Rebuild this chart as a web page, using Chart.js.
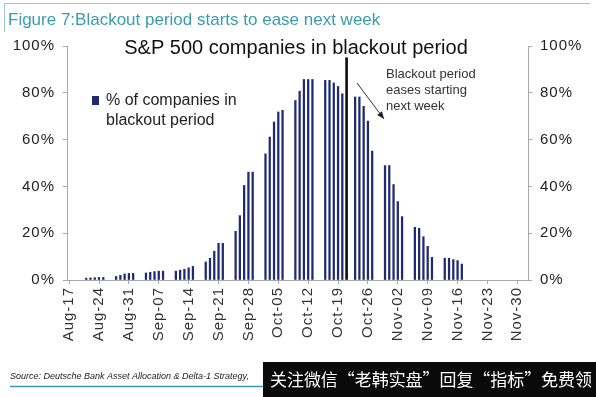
<!DOCTYPE html>
<html>
<head>
<meta charset="utf-8">
<script src="https://cdn.jsdelivr.net/npm/chart.js@4.4.1/dist/chart.umd.min.js"></script>
<style>
  body { margin: 0; background: #fff; }
  #wrap { width: 596px; height: 397px; }
</style>
</head>
<body>
<div id="wrap"><canvas id="chart" width="596" height="397"></canvas></div>
<script>
//first and last day on the axis (one category per calendar day)
const firstDay = "2017-08-17";
const lastDay = "2017-12-02";
//Monday of each week that has data
const weekStarts = ["2017-08-21", "2017-08-28", "2017-09-04", "2017-09-11", "2017-09-18",
  "2017-09-25", "2017-10-02", "2017-10-09", "2017-10-16", "2017-10-23",
  "2017-10-30", "2017-11-06", "2017-11-13"];
//% of S&P 500 companies in blackout period, Mon..Fri of each week above
const weekValues = [
  [0.8, 0.9, 1.0, 1.1, 1.1],
  [1.5, 2.0, 2.6, 2.8, 2.8],
  [3.0, 3.3, 3.6, 3.8, 3.8],
  [3.8, 4.2, 4.6, 5.2, 5.8],
  [7.7, 9.3, 12.3, 15.7, 15.7],
  [20.8, 27.5, 40.4, 46.1, 46.1],
  [53.9, 61.1, 67.5, 71.8, 72.5],
  [76.7, 80.7, 85.7, 85.7, 85.7],
  [85.3, 85.3, 84.2, 82.7, 79.6],
  [78.2, 78.2, 74.2, 67.9, 55.1],
  [48.9, 48.9, 40.8, 33.5, 27.1],
  [22.5, 22.1, 18.5, 14.4, 9.7],
  [9.3, 9.3, 8.7, 8.3, 6.8],
];
//"today" marker
const markerDay = "2017-10-21";
const markerValue = 95;
//y axis ticks
const yTicks = [0, 20, 40, 60, 80, 100];

const months = ["Jan", "Feb", "Mar", "Apr", "May", "Jun", "Jul", "Aug", "Sep", "Oct", "Nov", "Dec"];
const dayMs = 24 * 3600 * 1000;
const toDate = (s) => new Date(s + "T00:00:00Z");
const fmt = (d) => months[d.getUTCMonth()] + "-" + String(d.getUTCDate()).padStart(2, "0");

//build daily categories
const labels = [];
const keys = [];
for (let t = toDate(firstDay).getTime(); t <= toDate(lastDay).getTime(); t += dayMs) {
  const d = new Date(t);
  labels.push(fmt(d));
  keys.push(d.toISOString().slice(0, 10));
}
const pct = labels.map(() => null);
weekStarts.forEach((w, wi) => {
  const start = keys.indexOf(w);
  weekValues[wi].forEach((v, k) => { pct[start + k] = v; });
});
const marker = labels.map(() => null);
marker[keys.indexOf(markerDay)] = markerValue;

const txt = "#222";
const axisGrey = "#a8a8a8";

//texts, legend, arrow and footer drawn on top
const decorations = {
  id: "decorations",
  beforeDraw(chart) {
    chart.ctx.letterSpacing = "1px";
  },
  beforeDatasetsDraw(chart) {
    chart.ctx.letterSpacing = "0px";
  },
  afterDraw(chart) {
    const ctx = chart.ctx;
    ctx.save();
    ctx.letterSpacing = "0px";
    //frame lines at top
    ctx.strokeStyle = "#9cc8ce";
    ctx.lineWidth = 1;
    ctx.beginPath();
    ctx.moveTo(4, 3.5); ctx.lineTo(590, 3.5);
    ctx.moveTo(4.5, 3); ctx.lineTo(4.5, 32);
    ctx.stroke();
    //figure caption
    ctx.fillStyle = "#3a9cae";
    ctx.font = "17px 'Liberation Sans', Arial, sans-serif";
    ctx.textBaseline = "middle";
    ctx.fillText("Figure 7:Blackout period starts to ease next week", 8, 20);
    //chart title
    ctx.fillStyle = "#111";
    ctx.font = "20px 'Liberation Sans', Arial, sans-serif";
    ctx.textAlign = "center";
    ctx.fillText("S&P 500 companies in blackout period", 296, 48);
    //legend
    ctx.textAlign = "left";
    ctx.fillStyle = "#1f2a70";
    ctx.fillRect(92, 96, 7, 9);
    ctx.fillStyle = txt;
    ctx.font = "16px 'Liberation Sans', Arial, sans-serif";
    ctx.fillText("% of companies in", 106, 101);
    ctx.fillText("blackout period", 106, 121);
    //annotation
    ctx.font = "13px 'Liberation Sans', Arial, sans-serif";
    ctx.fillStyle = "#333";
    ctx.fillText("Blackout period", 386, 74);
    ctx.fillText("eases starting", 386, 90);
    ctx.fillText("next week", 386, 106);
    //arrow
    const x0 = 357, y0 = 83, x1 = 384, y1 = 119;
    ctx.strokeStyle = "#333";
    ctx.lineWidth = 1;
    ctx.beginPath();
    ctx.moveTo(x0, y0); ctx.lineTo(x1, y1);
    ctx.stroke();
    const a = Math.atan2(y1 - y0, x1 - x0);
    ctx.fillStyle = "#222";
    ctx.beginPath();
    ctx.moveTo(x1, y1);
    ctx.lineTo(x1 - 8 * Math.cos(a - 0.4), y1 - 8 * Math.sin(a - 0.4));
    ctx.lineTo(x1 - 8 * Math.cos(a + 0.4), y1 - 8 * Math.sin(a + 0.4));
    ctx.closePath();
    ctx.fill();
    //source
    ctx.font = "italic 9px 'Liberation Sans', Arial, sans-serif";
    ctx.fillStyle = "#222";
    ctx.fillText("Source: Deutsche Bank Asset Allocation & Delta-1 Strategy,", 10, 376);
    ctx.strokeStyle = "#3a9cae";
    ctx.lineWidth = 1.5;
    ctx.beginPath();
    ctx.moveTo(10, 386.5); ctx.lineTo(264, 386.5);
    ctx.stroke();
    //watermark box
    ctx.fillStyle = "#0a0a0a";
    ctx.fillRect(263, 362, 333, 35);
    ctx.fillStyle = "#fff";
    ctx.font = "17px 'Noto Sans CJK SC', sans-serif";
    ctx.fillText("关注微信“老韩实盘”回复“指标”免费领", 270, 380, 322);
    ctx.restore();
  },
};

new Chart(document.getElementById("chart"), {
  type: "bar",
  plugins: [decorations],
  data: {
    labels: labels,
    datasets: [
      {
        label: "% of companies in blackout period",
        data: pct,
        backgroundColor: "#1f2a70",
        barThickness: 1.6,
        grouped: false,
      },
      {
        label: "today",
        data: marker,
        backgroundColor: "#111",
        barThickness: 2,
        grouped: false,
      },
    ],
  },
  options: {
    responsive: false,
    animation: false,
    devicePixelRatio: 1,
    layout: { padding: { top: 46, left: 0, right: 0, bottom: 0 } },
    plugins: {
      legend: { display: false },
      tooltip: { enabled: false },
    },
    scales: {
      x: {
        offset: true,
        afterFit: (s) => { s.height = 117; },
        border: { color: axisGrey },
        grid: {
          drawOnChartArea: false,
          offset: false,
          tickLength: 4,
          color: (c) => (c.index % 7 === 0 ? axisGrey : "rgba(0,0,0,0)"),
        },
        ticks: {
          autoSkip: false,
          minRotation: 90,
          maxRotation: 90,
          padding: 3,
          color: "#333",
          font: { family: "'Liberation Sans', Arial, sans-serif", size: 15 },
          callback: (v, i) => (i % 7 === 0 ? labels[i] : ""),
        },
      },
      y: {
        position: "left",
        min: 0,
        max: 100,
        afterFit: (s) => { s.width = 67; },
        afterBuildTicks: (s) => { s.ticks = yTicks.map((v) => ({ value: v })); },
        border: { color: axisGrey },
        grid: { drawOnChartArea: false, tickLength: 4, color: axisGrey },
        ticks: {
          padding: 8,
          color: txt,
          font: { family: "'Liberation Sans', Arial, sans-serif", size: 15 },
          callback: (v) => v + "%",
        },
      },
      y2: {
        position: "right",
        min: 0,
        max: 100,
        afterFit: (s) => { s.width = 68; },
        afterBuildTicks: (s) => { s.ticks = yTicks.map((v) => ({ value: v })); },
        border: { color: axisGrey },
        grid: { drawOnChartArea: false, tickLength: 4, color: axisGrey },
        ticks: {
          padding: 8,
          color: txt,
          font: { family: "'Liberation Sans', Arial, sans-serif", size: 15 },
          callback: (v) => v + "%",
        },
      },
    },
  },
});
</script>
</body>
</html>
